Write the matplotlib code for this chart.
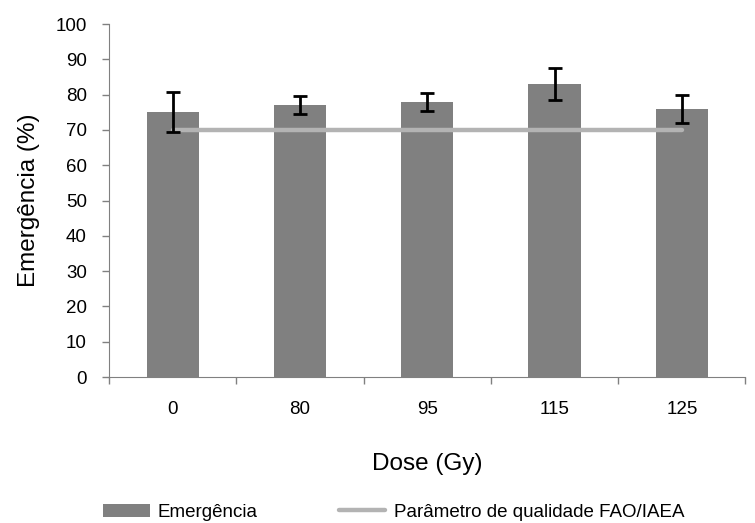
import matplotlib.pyplot as plt
import numpy as np
from matplotlib.ticker import FixedLocator

plt.rcParams['font.family'] = ['Liberation Sans', 'DejaVu Sans']

doses = ["0", "80", "95", "115", "125"]
emergencia = [75, 77, 78, 83, 76]
erro = [5.7, 2.6, 2.6, 4.6, 4.0]
parametro_fao = [70, 70, 70, 70, 70]

fig = plt.figure(figsize=(7.55, 5.23), dpi=100)
ax = fig.add_axes([0.1444, 0.279, 0.843, 0.675])

x = np.arange(len(doses))
barras = ax.bar(x, emergencia, width=0.41, color="#808080", label="Emergência", zorder=2)
ax.errorbar(x, emergencia, yerr=erro, fmt="none", ecolor="black",
            elinewidth=2, capsize=5, capthick=2, zorder=4)
linha, = ax.plot(x, parametro_fao, color="#b3b3b3", linewidth=3.2,
                 solid_capstyle="round", label="Parâmetro de qualidade FAO/IAEA", zorder=3)

ax.set_xlim(-0.5, len(doses) - 0.5)
ax.set_ylim(0, 100)
ax.set_yticks(np.arange(0, 101, 10))
ax.set_xticks(x)
ax.set_xticklabels(doses)
ax.xaxis.set_minor_locator(FixedLocator(np.arange(-0.5, len(doses), 1.0)))
ax.tick_params(axis="x", which="major", length=0, pad=17.5, labelsize=13.5)
ax.tick_params(axis="x", which="minor", length=5, color="#808080", width=1)
ax.tick_params(axis="y", length=5, color="#808080", width=1, labelsize=13.5, pad=11)

for s in ["top", "right"]:
    ax.spines[s].set_visible(False)
for s in ["left", "bottom"]:
    ax.spines[s].set_color("#808080")

ax.set_xlabel("Dose (Gy)", fontsize=17.5, labelpad=25)
ax.set_ylabel("Emergência (%)", fontsize=17.5, labelpad=11)

fig.legend(handles=[barras, linha], loc="lower left", bbox_to_anchor=(0.136, 0.004),
           ncol=2, frameon=False, fontsize=13.5, handlelength=2.5,
           handletextpad=0.45, columnspacing=4.3, borderpad=0, borderaxespad=0)

plt.savefig("out.png", dpi=100)
